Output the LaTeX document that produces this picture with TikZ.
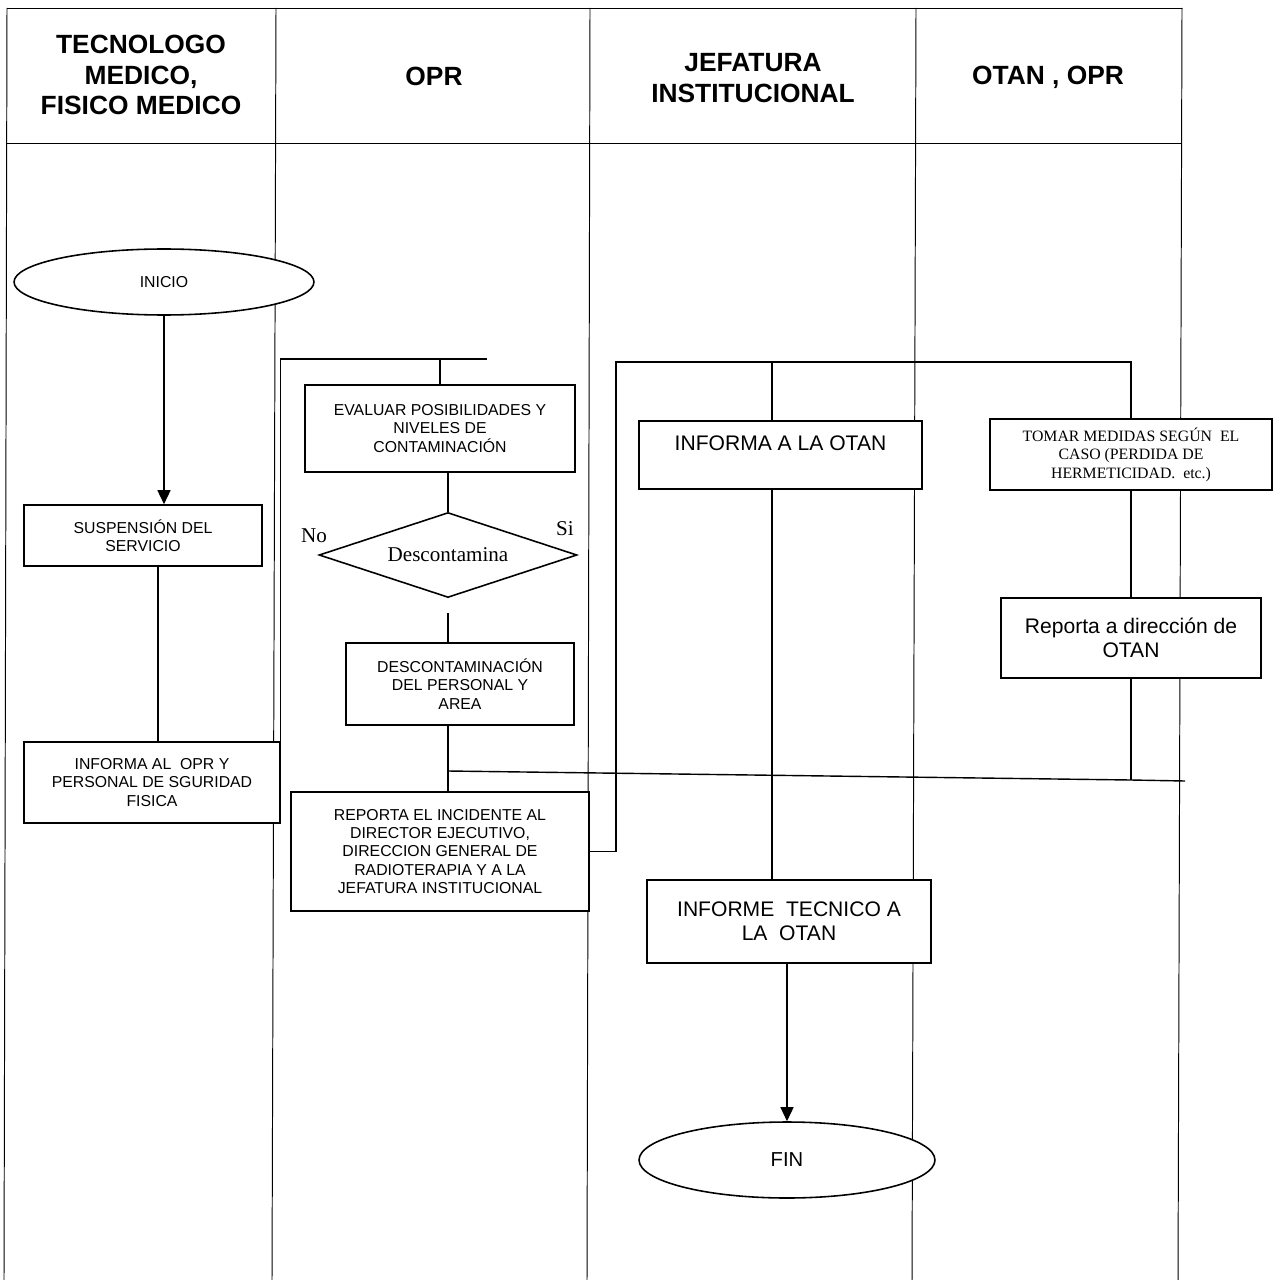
\documentclass[tikz,border=0pt]{standalone}
\usepackage{fontspec}
\setmainfont{Liberation Sans}
\newfontfamily\seriff{Liberation Serif}
\usetikzlibrary{shapes.geometric,arrows.meta}
\begin{document}
\begin{tikzpicture}[x=0.02cm,y=-0.02cm,
  lane/.style={line width=0.55pt},
  box/.style={draw,fill=white,line width=0.9pt,inner sep=0pt,align=center,font=\fontsize{9}{10.4}\selectfont},
  conn/.style={line width=0.8pt},
  arr/.style={line width=0.8pt,-{Triangle[length=0.28cm,width=0.26cm]}},
  hdr/.style={font=\fontsize{15}{17.3}\selectfont\bfseries,align=center},
  oval/.style={draw,fill=white,ellipse,line width=0.9pt,inner sep=0pt},
  sertxt/.style={font=\seriff\fontsize{12}{14}\selectfont}]
\useasboundingbox (0,0) rectangle (1279,1280);

% swimlane frame
\draw[lane] (7,8) -- (1182,8);
\draw[lane] (7,143) -- (1182,143);
\draw[lane] (7,8) -- (4,1280);
\draw[lane] (276,8) -- (272,1280);
\draw[lane] (590,8) -- (587,1280);
\draw[lane] (916,8) -- (912,1280);
\draw[lane] (1182,8) -- (1178,1280);

% headers
\node[hdr] (h1) at (141,75) {TECNOLOGO\\MEDICO,\\FISICO MEDICO};
\node[hdr] (h2) at (434,76) {OPR};
\node[hdr] (h3) at (753,78) {JEFATURA\\INSTITUCIONAL};
\node[hdr] (h4) at (1048,77) {OTAN , OPR};

% connector coordinates
\coordinate (tl) at (487,359);
\coordinate (k1) at (616,362);
\coordinate (k2) at (1131,362);
\coordinate (v1) at (772,362);
\coordinate (j1) at (448,771);
\coordinate (j2) at (1131,780);
\coordinate (j3) at (1185,781);

% nodes
\node[oval,minimum width=6cm,minimum height=1.32cm,font=\fontsize{9}{11}\selectfont] (inicio) at (164,282) {INICIO};
\node[box,minimum width=4.76cm,minimum height=1.22cm] (susp) at (143,535.5) {SUSPENSIÓN DEL\\SERVICIO};
\node[box,minimum width=5.12cm,minimum height=1.62cm] (infal) at (152,782.5) {INFORMA AL\ \ OPR Y\\PERSONAL DE SGURIDAD\\FISICA};
\node[box,minimum width=5.4cm,minimum height=1.74cm] (eval) at (440,428.5) {EVALUAR POSIBILIDADES Y\\NIVELES DE\\CONTAMINACIÓN};
\node[draw,fill=white,diamond,aspect=3,line width=0.9pt,minimum width=5.16cm,minimum height=1.7cm,inner sep=0pt,sertxt] (dia) at (448,555) {\raisebox{-3pt}{Descontamina}};
\node[sertxt] (no) at (314,536) {No};
\node[sertxt] (si) at (565,529) {Si};
\node[box,minimum width=4.56cm,minimum height=1.64cm] (desc) at (460,684) {DESCONTAMINACIÓN\\DEL PERSONAL Y\\AREA};
\node[box,minimum width=5.96cm,minimum height=2.38cm] (rep) at (440,851.5) {REPORTA EL INCIDENTE AL\\DIRECTOR EJECUTIVO,\\DIRECCION GENERAL DE\\RADIOTERAPIA Y A LA\\JEFATURA INSTITUCIONAL};
\node[box,minimum width=5.66cm,minimum height=1.36cm,font=\fontsize{12}{14}\selectfont] (iotan) at (780.5,455) {INFORMA A LA OTAN\\\mbox{}};
\node[box,minimum width=5.68cm,minimum height=1.66cm,font=\fontsize{12}{13.6}\selectfont] (tecn) at (789,921.5) {INFORME\ \ TECNICO A\\LA\ \ OTAN};
\node[oval,minimum width=5.92cm,minimum height=1.52cm,font=\fontsize{11.5}{13}\selectfont] (fin) at (787,1160) {FIN};
\node[box,minimum width=5.64cm,minimum height=1.42cm,font=\seriff\fontsize{9}{10.5}\selectfont] (tomar) at (1131,454.5) {TOMAR MEDIDAS SEGÚN\ \ EL\\CASO (PERDIDA DE\\HERMETICIDAD.\ \ etc.)};
\node[box,minimum width=5.2cm,minimum height=1.6cm,font=\fontsize{12}{13.6}\selectfont] (repot) at (1131,638) {Reporta a dirección de\\OTAN};

% connectors
\draw[arr] (inicio.south) -- (inicio.south |- susp.north);
\draw[conn] ([xshift=0.3cm]susp.south) -- ([xshift=0.3cm]susp.south |- infal.north);
\draw[conn] (infal.north east) |- (tl);
\draw[conn] (eval.north) -- (eval.north |- tl);
\draw[conn] (dia.north |- eval.south) -- (dia.north);
\draw[conn] ([yshift=-0.3cm]dia.south) -- (dia.south |- desc.north);
\draw[conn] (dia.south |- desc.south) -- (dia.south |- rep.north);
\draw[conn] (j1) -- (j2) -- (j3);
\draw[conn] (repot.south) -- (j2);
\draw[conn] (rep.east) -| (k1) -- (k2) -- (tomar.north);
\draw[conn] (v1) -- (v1 |- iotan.north);
\draw[conn] (v1 |- iotan.south) -- (v1 |- tecn.north);
\draw[arr] (fin.north |- tecn.south) -- (fin.north);
\draw[conn] (tomar.south) -- (repot.north);
\end{tikzpicture}
\end{document}
